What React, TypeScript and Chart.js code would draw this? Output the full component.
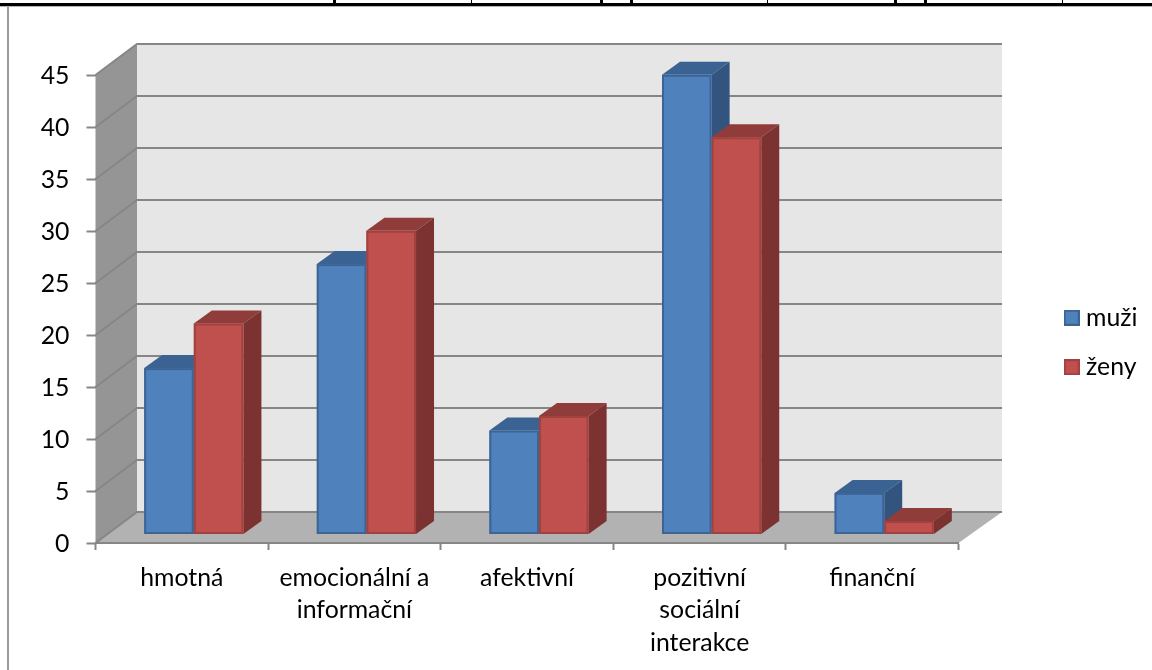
import React, { useEffect, useRef } from "react";
import { Chart, registerables } from "chart.js";

Chart.register(...registerables);

const categories = [
  "hmotná",
  ["emocionální a", "informační"],
  "afektivní",
  ["pozitivní", "sociální", "interakce"],
  "finanční",
];
const muzi = [16, 26, 10, 44.2, 4];
const zeny = [20.3, 29.2, 11.4, 38.2, 1.3];
const seriesNames = ["muži", "ženy"];

// Depth of the 3D box, in pixels, and where the bars sit inside it.
const WALL_DX = 41.5;
const WALL_DX_RIGHT = 43.5;
const WALL_DY = -31;
const BAR_SHIFT_X = 12;
const BAR_SHIFT_Y = -8.5;
const BAR_DX = 18;
const BAR_DY = -13;

const FONT = { family: "Lato, Carlito, sans-serif", size: 24.8, lineHeight: 1.3 };

const styles = [
  { front: "#4f81bd", top: "#3a6292", side: "#32547f", edge: "#3c6596" },
  { front: "#c0504d", top: "#8f3c3a", side: "#7b3231", edge: "#a04340" },
];

// Heavy and light column marks of the table that sits above the chart.
const ruleThick = [333, 600, 630, 894, 924];
const ruleThin = [471, 767, 1062];

const poly = (ctx: CanvasRenderingContext2D, pts: number[][], fill: string) => {
  ctx.beginPath();
  pts.forEach(([x, y], i) => (i ? ctx.lineTo(x, y) : ctx.moveTo(x, y)));
  ctx.closePath();
  ctx.fillStyle = fill;
  ctx.fill();
};

// Legend swatch: a small filled square with a darker edge.
const swatch = (s: { front: string; edge: string }) => {
  const c = document.createElement("canvas");
  c.width = 16;
  c.height = 16;
  const g = c.getContext("2d")!;
  g.fillStyle = s.edge;
  g.fillRect(0, 0, 16, 16);
  g.fillStyle = s.front;
  g.fillRect(2, 2, 12, 12);
  return c;
};

const boxPlugin = {
  id: "box3d",
  beforeDraw(chart: any) {
    const { ctx, chartArea: a, scales } = chart;
    const y = scales.y;
    const y0 = y.getPixelForValue(0);
    const yMax = y.getPixelForValue(45);
    const backL = a.left + WALL_DX;
    const backR = a.right + WALL_DX_RIGHT;
    ctx.save();
    // page furniture
    ctx.fillStyle = "#000";
    ctx.fillRect(0, 3, chart.width, 3);
    ruleThick.forEach((x) => ctx.fillRect(x, 0, 3, 4));
    ruleThin.forEach((x) => ctx.fillRect(x, 0, 1, 4));
    ctx.fillStyle = "#b4b4b4";
    ctx.fillRect(0, 6, chart.width, 1);
    ctx.fillStyle = "#9a9a9a";
    ctx.fillRect(7, 7, 2, chart.height - 7);

    // walls and floor
    poly(ctx, [[a.left, y0], [backL, y0 + WALL_DY], [backL, yMax + WALL_DY], [a.left, yMax]], "#959595");
    poly(ctx, [[backL, y0 + WALL_DY], [backR, y0 + WALL_DY], [backR, yMax + WALL_DY], [backL, yMax + WALL_DY]], "#e6e6e6");
    poly(ctx, [[a.left, y0], [a.right, y0], [backR, y0 + WALL_DY], [backL, y0 + WALL_DY]], "#b2b2b2");

    // gridlines run along the side wall, then across the back wall
    ctx.strokeStyle = "#868686";
    ctx.lineWidth = 2;
    y.ticks.forEach((t: any) => {
      const py = y.getPixelForValue(t.value);
      ctx.beginPath();
      ctx.moveTo(a.left, py);
      ctx.lineTo(backL, py + WALL_DY);
      ctx.lineTo(backR, py + WALL_DY);
      ctx.stroke();
    });
    ctx.restore();
  },
  beforeDatasetsDraw(chart: any) {
    const { ctx } = chart;
    ctx.save();
    ctx.translate(BAR_SHIFT_X, BAR_SHIFT_Y);
    // tops and sides go under every front face
    chart.data.datasets.forEach((_: any, i: number) => {
      const s = styles[i];
      chart.getDatasetMeta(i).data.forEach((bar: any) => {
        const l = bar.x - bar.width / 2;
        const r = bar.x + bar.width / 2;
        poly(ctx, [[l, bar.y], [r, bar.y], [r + BAR_DX, bar.y + BAR_DY], [l + BAR_DX, bar.y + BAR_DY]], s.top);
        poly(ctx, [[r, bar.y], [r + BAR_DX, bar.y + BAR_DY], [r + BAR_DX, bar.base + BAR_DY], [r, bar.base]], s.side);
      });
    });
  },
  afterDatasetsDraw(chart: any) {
    const { ctx } = chart;
    // outline each front face once the fills are down
    ctx.lineWidth = 2;
    chart.data.datasets.forEach((_: any, i: number) => {
      ctx.strokeStyle = styles[i].edge;
      chart.getDatasetMeta(i).data.forEach((bar: any) => {
        ctx.strokeRect(bar.x - bar.width / 2 + 1, bar.y + 1, bar.width - 2, bar.base - bar.y - 2);
      });
    });
    ctx.restore();
  },
  afterLayout(chart: any) {
    // the legend floats clear of the plot, beyond the box's right wall
    const lg = chart.legend;
    const w = lg.right - lg.left;
    const h = lg.bottom - lg.top;
    lg.left = 1045;
    lg.right = lg.left + w;
    lg.top = 342.5 - h / 2;
    lg.bottom = lg.top + h;
  },
};

export default function App() {
  const ref = useRef<HTMLCanvasElement>(null);
  useEffect(() => {
    document.body.style.margin = "0";
    const swatches = styles.map(swatch);
    const chart = new Chart(ref.current!, {
      type: "bar",
      data: {
        labels: categories as any,
        datasets: [
          { label: seriesNames[0], data: muzi, backgroundColor: styles[0].front, borderWidth: 0 },
          { label: seriesNames[1], data: zeny, backgroundColor: styles[1].front, borderWidth: 0 },
        ],
      },
      options: {
        animation: false,
        responsive: false,
        layout: { padding: { left: 0, top: 75, bottom: 0, right: 91 } },
        datasets: { bar: { categoryPercentage: 0.575, barPercentage: 1 } },
        plugins: {
          tooltip: { enabled: false },
          legend: {
            position: "right",
            labels: {
              usePointStyle: true,
              pointStyleWidth: 4,
              boxHeight: 16,
              padding: 24.7,
              color: "#000",
              font: FONT,
              generateLabels: (c: any) =>
                Chart.defaults.plugins.legend.labels.generateLabels(c).map((item: any, i: number) => ({
                  ...item,
                  pointStyle: swatches[i],
                })),
            },
          },
        },
        scales: {
          x: {
            afterFit: (s: any) => { s.height = 127; },
            border: { color: "#868686", width: 2 },
            grid: { drawOnChartArea: false, tickColor: "#868686", tickLength: 7, tickWidth: 2 },
            ticks: { color: "#000", font: FONT, padding: 12, maxRotation: 0, autoSkip: false },
          },
          y: {
            min: 0,
            max: 45,
            afterFit: (s: any) => { s.width = 95.5; },
            border: { display: false },
            grid: { drawOnChartArea: false, tickColor: "#868686", tickLength: 9, tickWidth: 2 },
            ticks: { stepSize: 5, color: "#000", font: FONT, padding: 17, labelOffset: 1.5 },
          },
        },
      },
      plugins: [boxPlugin],
    } as any);
    return () => chart.destroy();
  }, []);
  return <canvas ref={ref} width={1152} height={670} style={{ display: "block" }} />;
}
